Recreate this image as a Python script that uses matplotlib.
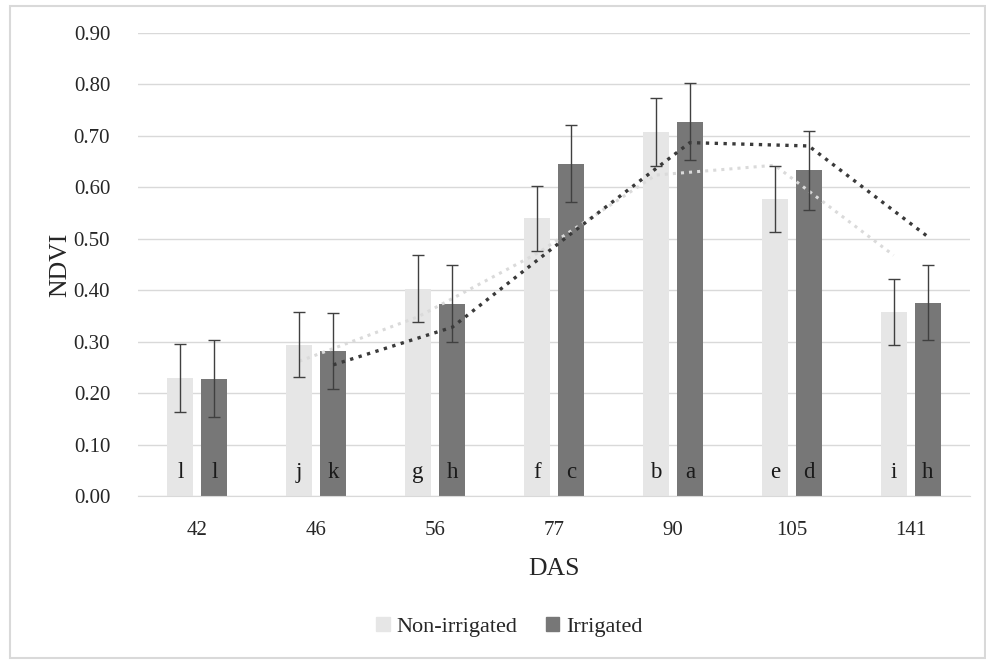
import numpy as np
import pandas as pd
import matplotlib
matplotlib.use("Agg")
import matplotlib.pyplot as plt
from matplotlib.patches import Patch, Rectangle

# NDVI values
das = ["42", "46", "56", "77", "90", "105", "141"]
non_irrigated = [0.230, 0.294, 0.403, 0.540, 0.708, 0.578, 0.358]
irrigated = [0.228, 0.282, 0.374, 0.646, 0.728, 0.633, 0.376]
non_irrigated_err = [0.066, 0.063, 0.065, 0.063, 0.066, 0.064, 0.064]
irrigated_err = [0.075, 0.074, 0.075, 0.075, 0.074, 0.077, 0.073]
letters_non = ["l", "j", "g", "f", "b", "e", "i"]
letters_irr = ["l", "k", "h", "c", "a", "d", "h"]

serif = "Liberation Serif"
plt.rcParams["font.family"] = [serif, "DejaVu Serif"]

fig = plt.figure(figsize=(9.87, 6.61), dpi=100)
ax = fig.add_axes([0.1398, 0.2496, 0.843, 0.7004])

x = np.arange(len(das))
w = 0.22
off = 0.143
c_non = "#e6e6e6"
c_irr = "#777777"

ax.bar(x - off, non_irrigated, w, color=c_non, zorder=2)
ax.bar(x + off, irrigated, w, color=c_irr, zorder=2)

ax.errorbar(x - off, non_irrigated, yerr=non_irrigated_err, fmt="none",
            ecolor="#404040", elinewidth=1, capsize=4, capthick=1, zorder=4)
ax.errorbar(x + off, irrigated, yerr=irrigated_err, fmt="none",
            ecolor="#404040", elinewidth=1, capsize=4, capthick=1, zorder=4)

# 2-period moving average trendlines (as in Excel)
ma_non = pd.Series(non_irrigated).rolling(2).mean()
ma_irr = pd.Series(irrigated).rolling(2).mean()
ax.plot(x[1:] - off, ma_non[1:], linestyle=":", color="#dadada", lw=2.2, zorder=3)
ax.plot(x[1:] + off, ma_irr[1:], linestyle=":", color="#3a3a3a", lw=2.4, zorder=5)

for i in range(len(das)):
    ax.text(x[i] - off, 0.045, letters_non[i], ha="center", va="center",
            fontsize=16.5, color="#1a1a1a", zorder=6)
    ax.text(x[i] + off, 0.045, letters_irr[i], ha="center", va="center",
            fontsize=16.5, color="#1a1a1a", zorder=6)

ax.set_xlim(-0.5, len(das) - 0.5)
ax.set_ylim(0, 0.9)
ax.set_yticks(np.arange(0, 0.91, 0.1))
ax.set_yticklabels([f"{v:.2f}" for v in np.arange(0, 0.91, 0.1)])
ax.set_xticks(x)
ax.set_xticklabels(das)
ax.tick_params(length=0, labelsize=15, colors="#262626")
ax.tick_params(axis="y", pad=20)
ax.tick_params(axis="x", pad=18)
ax.grid(axis="y", color="#d9d9d9", lw=1, zorder=0)
for s in ["top", "right", "left"]:
    ax.spines[s].set_visible(False)
ax.spines["bottom"].set_color("#d9d9d9")

ax.set_xlabel("DAS", fontsize=18.5, color="#262626", labelpad=13)
ax.set_ylabel("NDVI", fontsize=18.5, color="#262626", labelpad=2)

handles = [Patch(color=c_non, label="Non-irrigated"), Patch(color=c_irr, label="Irrigated")]
fig.legend(handles=handles, loc="center", bbox_to_anchor=(0.516, 0.051), ncol=2,
           frameon=False, fontsize=16, handlelength=0.6, handleheight=0.6,
           handletextpad=0.3, columnspacing=1.3, labelcolor="#262626")

# outer chart border
fig.patches.append(Rectangle((10 / 987, 3 / 661), 975 / 987, 652 / 661,
                             transform=fig.transFigure, fill=False,
                             edgecolor="#d9d9d9", lw=1.5))

fig.savefig("out.png", dpi=100)
